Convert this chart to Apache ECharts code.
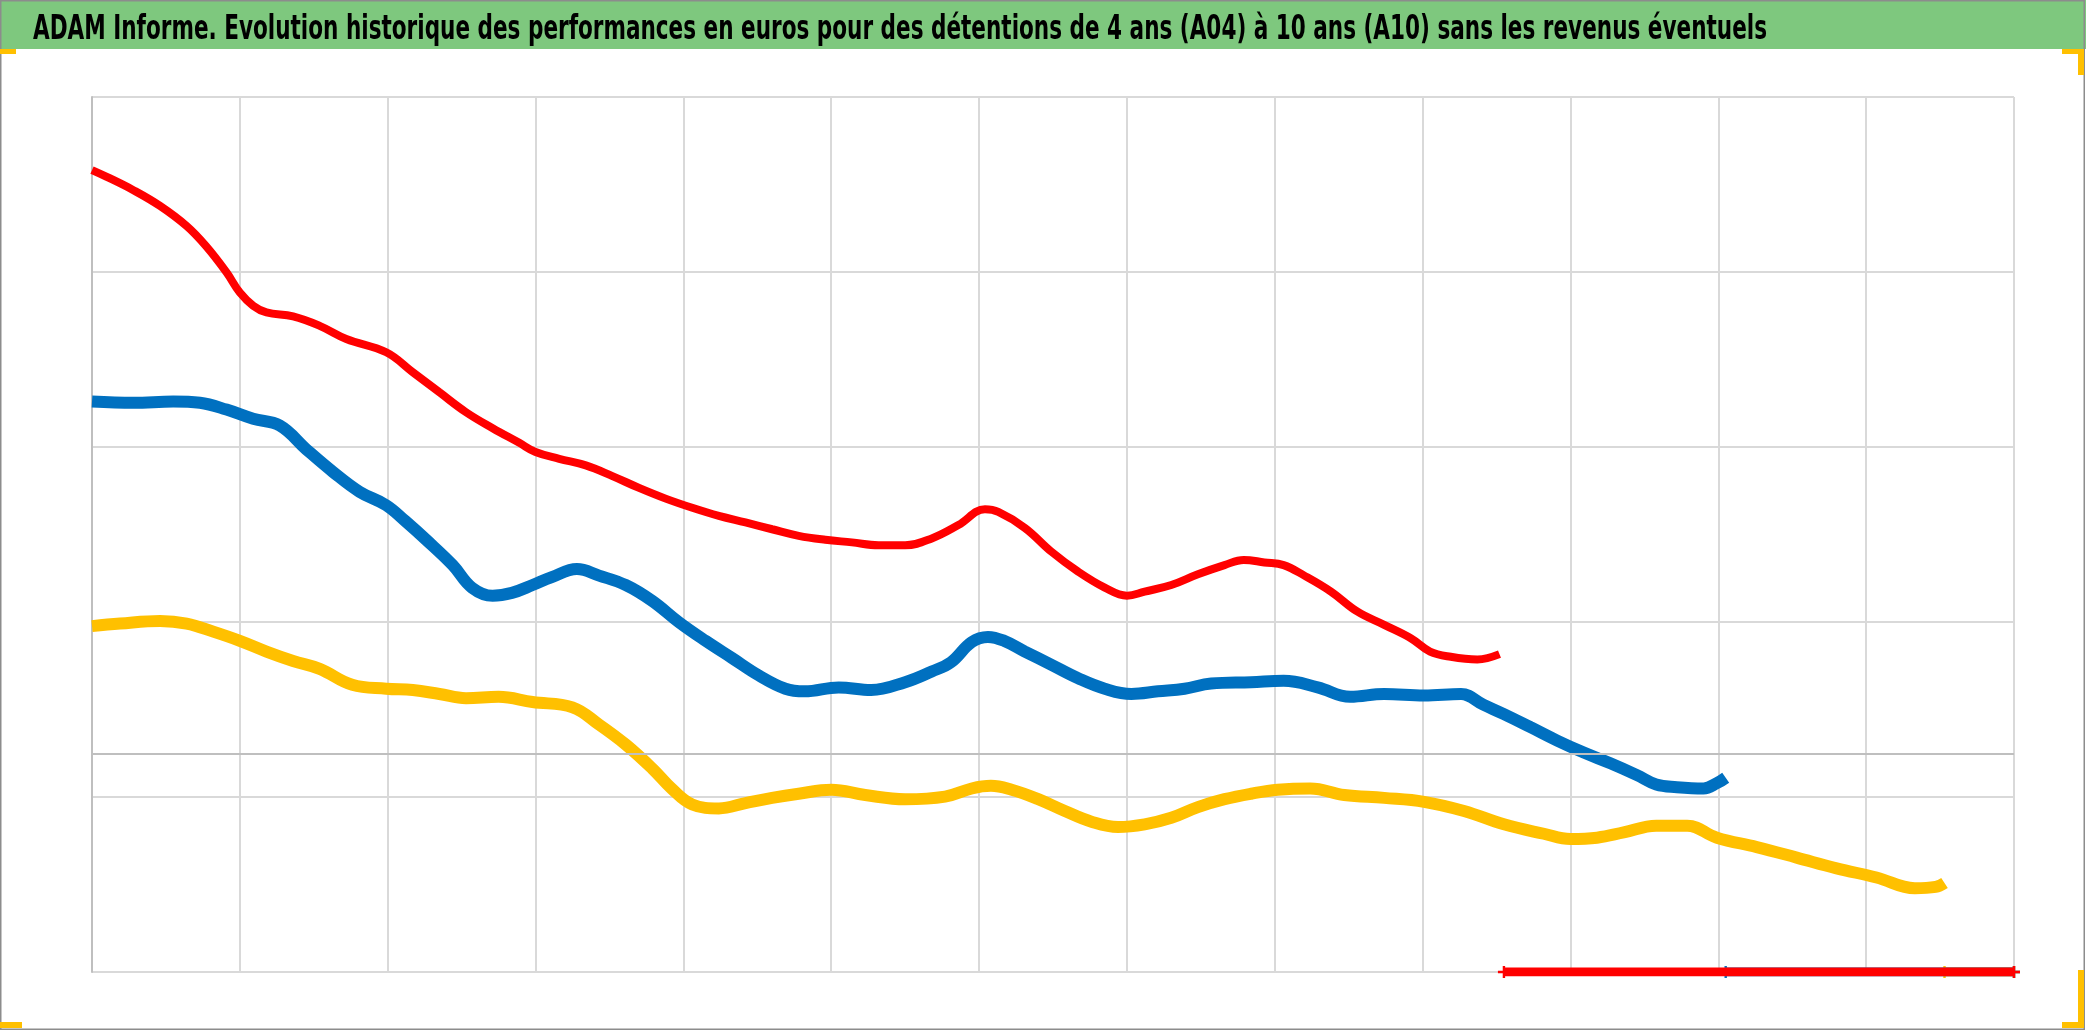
<!DOCTYPE html>
<html>
<head>
<meta charset="utf-8">
<script src="https://cdn.jsdelivr.net/npm/echarts@6/dist/echarts.min.js"></script>
<style>
html,body{margin:0;padding:0;background:#fff;}
#chart{position:absolute;left:0;top:0;width:2086px;height:1031px;}
</style>
</head>
<body>
<div id="chart"></div>
<script>
// x: years since start of the period (one grid column per year), y: value of 100 invested
const titleText = "ADAM Informe. Evolution historique des performances en euros pour des détentions de 4 ans (A04) à 10 ans (A10) sans les revenus éventuels";

const redX = [0,0.10,0.28,0.46,0.64,0.77,0.91,1.00,1.09,1.18,1.36,1.54,1.72,1.99,2.17,2.35,2.53,2.71,2.89,3.00,3.16,3.34,3.52,3.70,3.88,4.06,4.24,4.42,4.60,4.78,4.96,5.14,5.32,5.50,5.68,5.86,6.04,6.13,6.31,6.49,6.67,6.85,7.00,7.12,7.30,7.48,7.66,7.79,7.93,8.06,8.20,8.38,8.56,8.74,8.92,9.05,9.19,9.37,9.52];
const redY = [366.6,363.5,357.4,350.2,341.0,331.9,319.8,310.6,304.6,301.5,299.7,295.4,289.4,283.3,274.2,265.0,255.9,248.6,241.9,237.7,234.6,231.6,226.7,221.3,216.4,212.2,208.5,205.5,202.4,199.4,197.6,196.4,195.1,195.1,198.2,204.3,211.5,210.3,203.0,192.1,183.0,175.7,172.0,173.9,176.9,181.8,186.0,188.4,187.2,186.0,181.2,173.9,164.7,158.7,152.6,146.5,144.1,142.9,145.3];

const blueX = [0,0.28,0.55,0.73,0.91,1.09,1.27,1.45,1.63,1.81,1.99,2.12,2.26,2.44,2.57,2.71,2.84,2.98,3.11,3.28,3.43,3.61,3.79,3.97,4.15,4.33,4.51,4.69,4.82,5.05,5.27,5.50,5.68,5.81,5.95,6.06,6.17,6.31,6.49,6.67,6.85,7.03,7.21,7.39,7.57,7.84,8.06,8.29,8.51,8.74,9.01,9.26,9.41,9.55,9.73,9.91,10.09,10.27,10.45,10.58,10.72,10.90,10.99,11.05];
const blueY = [260.8,260.2,260.8,260.2,257.1,252.9,249.8,238.9,228.6,219.5,213.4,206.1,197.6,186.0,175.7,172.0,173.3,176.9,180.5,184.2,181.2,176.9,169.6,159.9,151.4,143.5,135.6,129.5,128.3,130.1,128.9,132.5,137.4,141.6,150.8,153.2,151.4,146.5,140.4,134.3,129.5,127.1,128.3,129.5,131.9,132.5,133.1,130.1,125.8,127.1,126.4,127.1,122.2,117.9,111.9,105.8,100.3,95.4,90.0,85.7,84.5,83.9,86.3,88.8];

const yellowX = [0,0.19,0.46,0.64,0.82,1.00,1.18,1.36,1.54,1.76,1.99,2.17,2.35,2.53,2.75,2.98,3.25,3.43,3.61,3.79,3.92,4.06,4.24,4.42,4.60,4.78,5.00,5.23,5.50,5.77,5.95,6.08,6.22,6.40,6.58,6.76,6.94,7.12,7.30,7.48,7.66,7.84,8.02,8.24,8.47,8.74,9.01,9.28,9.55,9.82,10.00,10.18,10.36,10.58,10.79,10.99,11.26,11.53,11.80,12.07,12.33,12.47,12.53];
const yellowY = [158.1,159.3,160.5,159.3,155.6,151.4,146.5,142.2,138.6,131.3,129.5,128.9,127.1,125.2,125.8,123.4,121.0,113.1,104.0,93.0,83.9,76.6,74.8,77.2,79.6,81.5,83.3,80.9,79.0,80.2,83.9,85.1,83.3,79.0,73.6,68.7,66.3,67.5,70.5,75.4,79.0,81.5,83.3,83.9,80.9,79.6,77.8,73.6,67.5,63.2,60.8,61.4,63.8,66.9,66.9,61.4,57.1,52.3,47.4,43.2,38.3,38.9,40.7];

// periods not yet available are recorded as 0 (start of the zero run .. end of axis)
const redZeroX = [9.55, 13];
const blueZeroX = [11.05, 13];
const yellowZeroX = [12.53, 13];
const zeroY = [0, 0];

const breakEven = 100;
const xTicks = [0,13,1];
const yTicks = [0,400,80];

const RED = '#FF0000', BLUE = '#0070C0', YELLOW = '#FFC000';
const plus = 'path://M4,0H6V4H10V6H6V10H4V6H0V4H4Z';

function pairs(xs, ys){ return xs.map((x,i)=>[x, ys[i]]); }

// title font: fit the condensed title to the reference width
const TITLE_FONT = "bold 33px 'Liberation Sans Narrow', 'DejaVu Sans Condensed', 'DejaVu Sans', sans-serif";
const TITLE_WIDTH = 1734;
const mc = document.createElement('canvas').getContext('2d');
mc.font = TITLE_FONT;
const measured = mc.measureText(titleText).width || TITLE_WIDTH;
const titleScale = Math.min(1, TITLE_WIDTH / measured);

const chart = echarts.init(document.getElementById('chart'), null, {renderer:'canvas'});

function lineSeries(name, xs, ys, color, width, z){
  return {
    name, type:'line', data: pairs(xs, ys), smooth:0.4, z,
    showSymbol:false, symbol:'none',
    lineStyle:{color, width}, itemStyle:{color},
    animation:false, silent:true
  };
}
function zeroSeries(name, xs, color, z){
  return {
    name, type:'line', data: pairs(xs, zeroY), z,
    symbol: plus, symbolSize: 12, showSymbol:true,
    lineStyle:{color, width:9}, itemStyle:{color},
    animation:false, silent:true
  };
}

const yellowS = lineSeries('A10', yellowX, yellowY, YELLOW, 12, 3);
yellowS.markLine = {
  silent:true, symbol:'none', animation:false,
  label:{show:false},
  lineStyle:{color:'#bfbfbf', width:2, type:'solid'},
  data:[{yAxis: breakEven}]
};

chart.setOption({
  animation:false,
  backgroundColor:'#ffffff',
  grid:{left:92, right:72, top:97, bottom:59, containLabel:false},
  xAxis:{
    type:'value', min:xTicks[0], max:xTicks[1], interval:xTicks[2],
    axisLine:{show:false}, axisTick:{show:false}, axisLabel:{show:false},
    splitLine:{show:true, lineStyle:{color:'#d9d9d9', width:2}}
  },
  yAxis:{
    type:'value', min:yTicks[0], max:yTicks[1], interval:yTicks[2],
    axisLine:{show:true, onZero:false, lineStyle:{color:'#bfbfbf', width:2}},
    axisTick:{show:false}, axisLabel:{show:false},
    splitLine:{show:true, lineStyle:{color:'#d9d9d9', width:2}}
  },
  series:[
    yellowS,
    lineSeries('A07', blueX, blueY, BLUE, 12, 4),
    lineSeries('A04', redX, redY, RED, 8, 5),
    zeroSeries('A10 zero', yellowZeroX, YELLOW, 6),
    zeroSeries('A07 zero', blueZeroX, BLUE, 7),
    zeroSeries('A04 zero', redZeroX, RED, 8)
  ],
  graphic:[
    {type:'rect', z:100, shape:{x:0, y:0, width:2086, height:49}, style:{fill:'#7EC87E'}},
    {type:'text', z:101, x:33, y:30, scaleX:titleScale, style:{
      text: titleText, fill:'#000', verticalAlign:'middle', align:'left',
      font: TITLE_FONT
    }},
    {type:'rect', z:102, shape:{x:0.75, y:0.75, width:2083.5, height:1028.5}, style:{fill:'none', stroke:'#8c8c8c', lineWidth:1.5}},
    {type:'rect', z:103, shape:{x:0, y:49, width:16, height:5}, style:{fill:YELLOW}},
    {type:'rect', z:103, shape:{x:2062, y:49, width:22, height:5}, style:{fill:YELLOW}},
    {type:'rect', z:103, shape:{x:2078, y:49, width:6, height:26}, style:{fill:YELLOW}},
    {type:'rect', z:103, shape:{x:0, y:1022, width:22, height:6}, style:{fill:YELLOW}},
    {type:'rect', z:103, shape:{x:2062, y:1022, width:22, height:6}, style:{fill:YELLOW}},
    {type:'rect', z:103, shape:{x:2078, y:970, width:6, height:58}, style:{fill:YELLOW}}
  ]
});
</script>
</body>
</html>
